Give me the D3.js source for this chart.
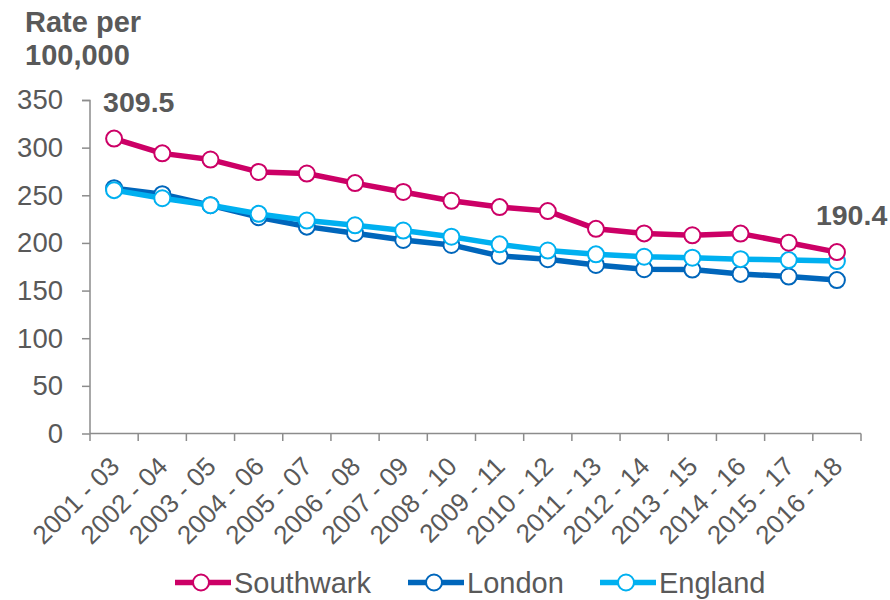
<!DOCTYPE html>
<html><head><meta charset="utf-8">
<script src="https://cdn.jsdelivr.net/npm/d3@7/dist/d3.min.js"></script>
<style>body{margin:0;background:#fff}svg{display:block;font-family:"Liberation Sans",Arial,sans-serif}</style>
</head><body><svg id="c" width="890" height="600"></svg>
<script>
const categories = ["2001 - 03","2002 - 04","2003 - 05","2004 - 06","2005 - 07","2006 - 08","2007 - 09","2008 - 10","2009 - 11","2010 - 12","2011 - 13","2012 - 14","2013 - 15","2014 - 16","2015 - 17","2016 - 18"];
const southwark = [309.5,294.0,287.5,274.5,272.8,262.8,253.5,244.2,237.6,233.4,214.8,210.0,208.0,209.8,200.2,190.4];
const london    = [257.5,251.2,239.6,227.0,217.1,210.2,203.1,197.9,186.4,182.9,176.9,172.4,172.0,167.5,164.7,161.0];
const england   = [255.4,246.9,239.6,230.5,223.5,218.5,213.0,206.5,198.5,192.0,188.0,185.5,184.5,183.0,182.0,181.0];
const seriesNames = ["Southwark","London","England"];
const yTicks = [0,50,100,150,200,250,300,350];
const annotations = [{series:0,index:0,text:"309.5"},{series:0,index:15,text:"190.4"}];

const colors = ["#CC0066","#0066BB","#00B0F0"];
const seriesData = [southwark, london, england];
const svg = d3.select("#c");
const textCol = "#595959", axisCol = "#8c8c8c";

const x = d3.scaleBand().domain(categories).range([90, 861]);
const y = d3.scaleLinear().domain([0,350]).range([433.5, 100]);
const xc = d => x(d) + x.bandwidth()/2;

// Y axis
const yAxis = svg.append("g").attr("transform","translate(90,0)")
  .call(d3.axisLeft(y).tickValues(yTicks).tickSize(8).tickPadding(19).tickFormat(d3.format("d")));
yAxis.select(".domain").attr("stroke",axisCol).attr("stroke-width",1.5).attr("d","M-8,100.5H0V433.5");
yAxis.selectAll(".tick line").attr("stroke",axisCol).attr("stroke-width",1.5);
yAxis.selectAll(".tick text").attr("fill",textCol).attr("font-size",27.5).attr("font-family","Liberation Sans, Arial, sans-serif");

// X axis
const xAxis = svg.append("g").attr("transform","translate(0,433.5)")
  .call(d3.axisBottom(x).tickSize(0).tickFormat(""));
xAxis.select(".domain").attr("stroke",axisCol).attr("stroke-width",1.5).attr("d","M90,0H861");
xAxis.selectAll(".tick").remove();
const edges = categories.map(c => x(c)).concat([x(categories[categories.length-1]) + x.bandwidth()]);
xAxis.selectAll("line.t").data(edges).join("line").attr("class","t")
  .attr("x1",d=>d).attr("x2",d=>d).attr("y1",0).attr("y2",7.5)
  .attr("stroke",axisCol).attr("stroke-width",1.5);
svg.append("g").selectAll("text").data(categories).join("text")
  .attr("transform", d => `translate(${xc(d)+7},${468}) rotate(-45)`)
  .attr("text-anchor","end").attr("fill",textCol).attr("font-size",26)
  .text(d => d);

// Title
const title = svg.append("text").attr("fill",textCol)
  .attr("font-size",29).attr("font-weight","bold");
title.append("tspan").attr("x",25).attr("y",32).text("Rate per");
title.append("tspan").attr("x",25).attr("y",65).text("100,000");

// Lines + markers
const line = d3.line().x((d,i)=>xc(categories[i])).y(d=>y(d));
const order = [1,2,0];
order.forEach(s => {
  const g = svg.append("g");
  g.append("path").datum(seriesData[s]).attr("d",line).attr("fill","none")
    .attr("stroke",colors[s]).attr("stroke-width",5.5).attr("stroke-linejoin","round");
  g.selectAll("circle").data(seriesData[s]).join("circle")
    .attr("cx",(d,i)=>xc(categories[i])).attr("cy",d=>y(d)).attr("r",8)
    .attr("fill","#fff").attr("stroke",colors[s]).attr("stroke-width",2);
});

// Annotations
const annPos = [{dx:-11, y:111.5},{dx:-21, y:225}];
annotations.forEach((a,k) => {
  svg.append("text").attr("x", xc(categories[a.index]) + annPos[k].dx).attr("y", annPos[k].y)
    .attr("fill",textCol).attr("font-size",28.5).attr("font-weight","bold").text(a.text);
});

// Legend
const legX = [175, 408, 600];
seriesNames.forEach((n,i) => {
  const g = svg.append("g").attr("transform",`translate(${legX[i]},582.5)`);
  g.append("line").attr("x1",0).attr("x2",56).attr("stroke",colors[i]).attr("stroke-width",5.5);
  g.append("circle").attr("cx",26).attr("r",8).attr("fill","#fff").attr("stroke",colors[i]).attr("stroke-width",2);
  g.append("text").attr("x",59).attr("y",0).attr("dy","0.36em").attr("fill",textCol).attr("font-size",29).text(n);
});
</script></body></html>
